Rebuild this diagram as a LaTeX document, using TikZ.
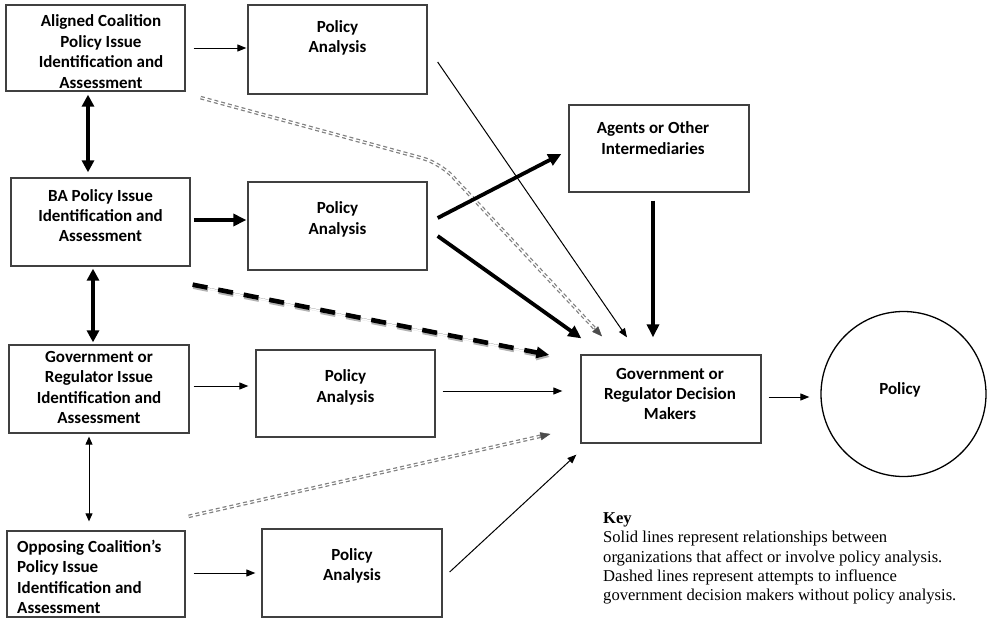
\documentclass[tikz,border=0pt]{standalone}
\usepackage{fontspec}
\setmainfont{Liberation Serif}
\newfontfamily\calfont{Carlito}
\usetikzlibrary{arrows.meta,calc}
\begin{document}
\begin{tikzpicture}[x=1pt,y=-1pt,
  box/.style={draw=black!75, line width=1.3pt, inner sep=0pt, rectangle},
  lbl/.style={font=\calfont\bfseries\fontsize{17}{20.4}\selectfont, align=center, inner sep=0pt},
  thinarr/.style={line width=1pt, -{Triangle[length=9pt,width=7pt]}},
  thickarr/.style={line width=3.8pt, -{Triangle[length=13pt,width=12pt]}},
  thickdbl/.style={line width=3.8pt, {Triangle[length=12pt,width=12pt]}-{Triangle[length=12pt,width=12pt]}},
  thindbl/.style={line width=1pt, {Triangle[length=8pt,width=7pt]}-{Triangle[length=8pt,width=7pt]}},
  gdash/.style={draw=black!50, line width=3.6pt, dash pattern=on 4pt off 3pt},
  gdashin/.style={draw=white, line width=1.1pt},
  gtip/.style={draw=black!70, fill=black!70, line width=0.4pt, -{Triangle[length=10pt,width=8pt]}},
  bigdash/.style={line width=4.6pt, dash pattern=on 15pt off 11pt, -{Triangle[length=13pt,width=11pt]}}
]
\useasboundingbox (0,0) rectangle (989,619);
\fill[white] (0,0) rectangle (989,619);

% boxes
\node[box, minimum width=179pt, minimum height=86pt] (a1) at (95.5,48) {};
\node[lbl] (a1t) at (101,51.5) {Aligned Coalition\\Policy Issue\\Identification and\\Assessment};
\node[box, minimum width=179pt, minimum height=88pt] (ba) at (100.5,222) {};
\node[lbl] (bat) at (100.5,215.5) {BA Policy Issue\\Identification and\\Assessment};
\node[box, minimum width=180pt, minimum height=88pt] (gv) at (99,389) {};
\node[lbl] (gvt) at (99,387.5) {Government or\\Regulator Issue\\Identification and\\Assessment};
\node[box, minimum width=178pt, minimum height=86pt] (op) at (96,574) {};
\node[lbl, align=left, anchor=west] (opt) at (17,577) {Opposing Coalition’s\\Policy Issue\\Identification and\\Assessment};

\node[box, minimum width=179pt, minimum height=89pt] (pa1) at (337.5,49.5) {};
\node[lbl] (pa1t) at (337.5,38) {Policy\\Analysis};
\node[box, minimum width=179pt, minimum height=88pt] (pa2) at (337.5,226) {};
\node[lbl] (pa2t) at (337.5,219.5) {Policy\\Analysis};
\node[box, minimum width=179pt, minimum height=87pt] (pa3) at (345.5,393.5) {};
\node[lbl] (pa3t) at (345.5,387.5) {Policy\\Analysis};
\node[box, minimum width=180pt, minimum height=88pt] (pa4) at (352,573) {};
\node[lbl] (pa4t) at (352,566) {Policy\\Analysis};

\node[box, minimum width=180pt, minimum height=87pt] (ag) at (659,148.5) {};
\node[lbl] (agt) at (653,138) {Agents or Other\\Intermediaries};
\node[box, minimum width=180pt, minimum height=88pt] (dm) at (671,399) {};
\node[lbl] (dmt) at (670,394) {Government or\\Regulator Decision\\Makers};
\node[draw=black, line width=1.3pt, circle, minimum size=165pt, inner sep=0pt] (pol) at (903.5,394) {};
\node[lbl] (polt) at (900,390) {Policy};

% key
\node[anchor=west, align=left, inner sep=0pt, font=\fontsize{16.6}{19.3}\selectfont] (key) at (603,558.5)
 {\textbf{Key}\\Solid lines represent relationships between\\organizations that affect or involve policy analysis.\\Dashed lines represent attempts to influence\\government decision makers without policy analysis.};

% gray double-dashed lines (drawn first)
\coordinate (g1s) at ($(a1.south east)+(15,6)$);
\coordinate (g1b) at (440,163);
\coordinate (g1e) at ($(dm.north)+(-69,-18)$);
\draw[gdash, rounded corners=18pt] (g1s) -- (g1b) -- ($(g1e)!9pt!(g1b)$);
\draw[gdashin, rounded corners=18pt] (g1s) -- (g1b) -- ($(g1e)!9pt!(g1b)$);
\draw[gtip] ($(g1e)!11pt!(g1b)$) -- (g1e);

\coordinate (g2s) at ($(op.north east)+(3,-14)$);
\coordinate (g2e) at ($(dm.west)+(-30,35)$);
\draw[gdash] (g2s) -- ($(g2e)!9pt!(g2s)$);
\draw[gdashin] (g2s) -- ($(g2e)!9pt!(g2s)$);
\draw[gtip] ($(g2e)!11pt!(g2s)$) -- (g2e);

% thick dashed (with shadow)
\coordinate (d1s) at ($(ba.south east)+(2,18)$);
\coordinate (d1e) at ($(dm.west)+(-31,-44)$);
\draw[bigdash, draw=gray!60, fill=gray!60] ($(d1s)+(0.6,2)$) -- ($(d1e)+(0.6,2)$);
\draw[bigdash, fill=black] (d1s) -- (d1e);

% left column vertical arrows
\draw[thickdbl] ($(a1.south)+(-7.5,3)$) -- ($(ba.north)+(-12.5,-5)$);
\draw[thickdbl] ($(ba.south)+(-7.5,2)$) -- ($(gv.north)+(-6,-2)$);
\draw[thindbl] ($(gv.south)+(-10,3)$) -- ($(op.north)+(-7,-9)$);

% horizontal to policy analysis
\draw[thinarr] ($(a1.east)+(8,0)$) -- ($(pa1.west)+(-1,-1.5)$);
\draw[thickarr] ($(ba.east)+(3,-2)$) -- ($(pa2.west)+(-1,-6)$);
\draw[thinarr] ($(gv.east)+(4,-3)$) -- ($(pa3.west)+(-7,-7.5)$);
\draw[thinarr] ($(op.east)+(8,-1)$) -- ($(pa4.west)+(-6,0)$);

% to decision makers
\draw[thinarr] ($(pa1.east)+(10,12.5)$) -- ($(dm.north)+(-44,-17)$);
\draw[thickarr] ($(pa2.east)+(10,-8)$) -- ($(ag.west)+(-7,5.5)$);
\draw[thickarr] ($(pa2.east)+(10,10)$) -- ($(dm.north west)+(1,-16)$);
\draw[thickarr] ($(ag.south)+(-6,8)$) -- ($(dm.north)+(-18,-17)$);
\draw[thinarr] ($(pa3.east)+(7,-2.5)$) -- ($(dm.west)+(-18,-8)$);
\draw[thinarr] ($(pa4.east)+(7,-1)$) -- ($(dm.south west)+(-4,11)$);
\draw[thinarr] ($(dm.east)+(7,-2)$) -- ($(pol.west)+(-11,3)$);
\end{tikzpicture}
\end{document}
